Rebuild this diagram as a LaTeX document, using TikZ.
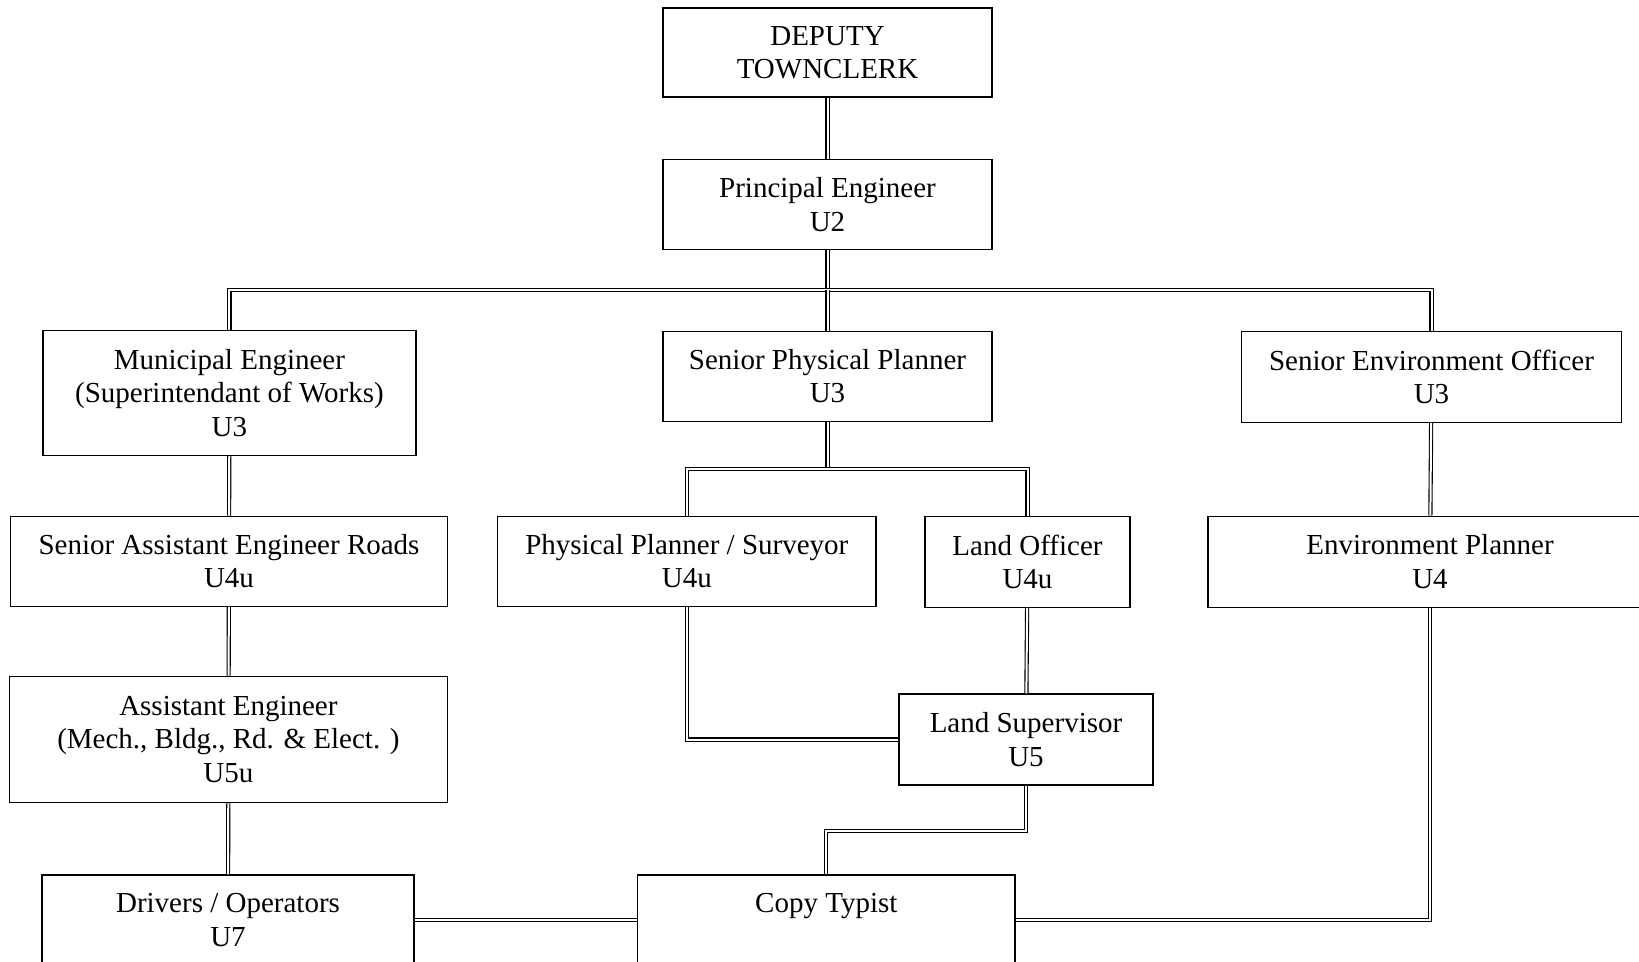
\documentclass[tikz,border=0pt]{standalone}
\usepackage{fontspec}
\setmainfont{Liberation Serif}
\usepackage{tikz}

\begin{document}
\begin{tikzpicture}[x=0.5pt,y=-0.5pt,
  unit/.style 2 args={draw,line width=0.65pt,align=center,inner sep=0pt,
    font=\fontsize{14.5}{16.75}\selectfont,
    minimum width=#1*0.5pt,minimum height=#2*0.5pt},
  link/.style={double,double distance=1pt,line width=0.55pt}]
\useasboundingbox (0,0) rectangle (1639,962);
% boxes
\node[unit={329}{89}] (dep) at (827.5,52.5) {DEPUTY\\TOWNCLERK};
\node[unit={329}{90}] (pe) at (827.5,204.8) {Principal Engineer\\U2};
\node[unit={373}{125}] (me) at (229.4,393) {Municipal Engineer\\(Superintendant of Works)\\U3};
\node[unit={329}{90}] (spp) at (827.5,376.3) {Senior Physical Planner\\U3};
\node[unit={379.5}{91}] (seo) at (1431.5,376.8) {Senior Environment Officer\\U3};
\node[unit={437}{90}] (saer) at (229,561.3) {Senior Assistant Engineer Roads\\U4u};
\node[unit={378.4}{90}] (pps) at (686.8,561.3) {Physical Planner / Surveyor\\U4u};
\node[unit={205}{91}] (lo) at (1027.5,561.8) {Land Officer\\U4u};
\node[unit={444}{91}] (ep) at (1430,561.8) {Environment Planner\\U4};
\node[unit={254}{91}] (ls) at (1026,739.5) {Land Supervisor\\U5};
\node[unit={438}{126.5}] (ae) at (228.4,739.5) {Assistant Engineer\\(Mech., Bldg., Rd. \& Elect. )\\U5u};
\node[unit={372}{90}] (dr) at (228,920) {Drivers / Operators\\U7};
\node[unit={377.4}{90}] (ct) at (826.3,920) {Copy Typist\\\phantom{U7}};
% connectors
\draw[link] (dep) -- (pe);
\draw[link] (pe.south) -- ++(0,39.7) coordinate (bus);
\draw[link] (me.north) |- (bus) -| (seo.north);
\draw[link] (bus) -- (spp.north);
\draw[link] (spp.south) -- ++(0,47) coordinate (split);
\draw[link] (pps.north) |- (split) -| (lo.north);
\draw[link] (me) -- (saer);
\draw[link] (saer) -- (ae);
\draw[link] (ae) -- (dr);
\draw[link] (seo) -- (ep);
\draw[link] (lo) -- (ls);
\draw[link] (pps.south) |- (ls.west);
\draw[link] (ls.south) -- ++(0,45) -| (ct.north);
\draw[link] (dr.east) -- (ct.west);
\draw[link] (ep.south) |- (ct.east);
\end{tikzpicture}
\end{document}
